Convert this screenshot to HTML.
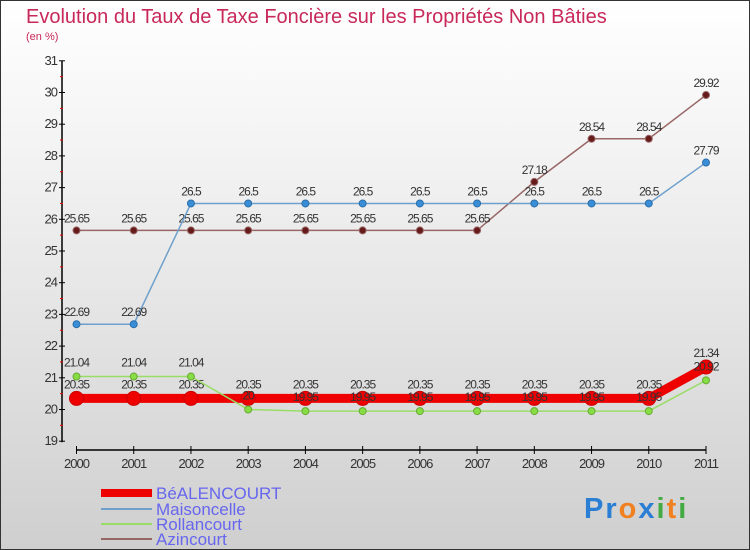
<!DOCTYPE html>
<html><head><meta charset="utf-8"><style>
body{margin:0;}
#c{position:relative;width:748px;height:548px;border:1px solid #333;background:linear-gradient(#ffffff,#f2f2f2 30%,#cfcfcf);font-family:"Liberation Sans",sans-serif;overflow:hidden}
</style></head><body>
<div id="c">
<svg id="s" width="748" height="548" xmlns="http://www.w3.org/2000/svg" font-family="Liberation Sans, sans-serif">
<text x="25" y="22" font-size="20" fill="#c8285a">Evolution du Taux de Taxe Foncière sur les Propriétés Non Bâties</text>
<text x="25" y="39" font-size="11" fill="#c8285a">(en %)</text>
<g id="axes"></g><g id="series"></g>
<g>
<line x1="100" y1="492" x2="151" y2="492" stroke="#ee0000" stroke-width="8"/>
<text x="155" y="498" font-size="17" fill="#6666ee">BéALENCOURT</text>
<line x1="100" y1="508" x2="151" y2="508" stroke="#6fa0cc" stroke-width="2"/>
<text x="155" y="514" font-size="17" fill="#6666ee">Maisoncelle</text>
<line x1="100" y1="523" x2="151" y2="523" stroke="#99dd66" stroke-width="2"/>
<text x="155" y="529" font-size="17" fill="#6666ee">Rollancourt</text>
<line x1="100" y1="538" x2="151" y2="538" stroke="#996666" stroke-width="2"/>
<text x="155" y="544" font-size="17" fill="#6666ee">Azincourt</text>
</g>
<text x="583" y="517" font-size="29" font-weight="bold" letter-spacing="2"><tspan fill="#2a7fd4">Pr</tspan><tspan fill="#f08020">o</tspan><tspan fill="#2a7fd4">x</tspan><tspan fill="#44aa44">i</tspan><tspan fill="#f08020">t</tspan><tspan fill="#44aa44">i</tspan></text>
</svg></div>
<script>
const years=["2000","2001","2002","2003","2004","2005","2006","2007","2008","2009","2010","2011"];
const yTicks=[19,20,21,22,23,24,25,26,27,28,29,30,31];
const bealencourt=[20.35,20.35,20.35,20.35,20.35,20.35,20.35,20.35,20.35,20.35,20.35,21.34];
const maisoncelle=[22.69,22.69,26.5,26.5,26.5,26.5,26.5,26.5,26.5,26.5,26.5,27.79];
const rollancourt=[21.04,21.04,21.04,20,19.95,19.95,19.95,19.95,19.95,19.95,19.95,20.92];
const azincourt=[25.65,25.65,25.65,25.65,25.65,25.65,25.65,25.65,27.18,28.54,28.54,29.92];
const NS="http://www.w3.org/2000/svg";
const xS=i=>75.5+i*(705-75.5)/(years.length-1);
const yS=v=>408.5-(v-20)*31.7;
function mk(t,a,p){const e=document.createElementNS(NS,t);for(const k in a)e.setAttribute(k,a[k]);p.appendChild(e);return e;}
const ax=document.getElementById('axes'),sr=document.getElementById('series');
let l=mk('line',{x1:61,y1:yS(31),x2:61,y2:yS(19)+1,stroke:'#000','stroke-width':1.5},ax);


yTicks.forEach(v=>{
 mk('line',{x1:58,y1:yS(v),x2:64,y2:yS(v),stroke:'#000'},ax);
 if(v<31){mk('line',{x1:59,y1:yS(v+0.5),x2:62,y2:yS(v+0.5),stroke:'#e00'},ax);}
 const t=mk('text',{x:56,y:yS(v)+4,'font-size':13,fill:'#333','text-anchor':'end','letter-spacing':'-1'},ax);t.textContent=v;
 
 
});
l=mk('line',{x1:xS(0),y1:449,x2:xS(11),y2:449,stroke:'#000','stroke-width':1.5},ax);


years.forEach((y,i)=>{
 mk('line',{x1:xS(i),y1:445,x2:xS(i),y2:453,stroke:'#000'},ax);
 const t=mk('text',{x:xS(i),y:467,'font-size':13,fill:'#333','text-anchor':'middle','letter-spacing':'-1'},ax);t.textContent=y;
 
 
});
function series(d,name,col,w,r,fill,stroke,dy){
 const g=mk('g',{},sr);
 
 
 mk('polyline',{points:d.map((v,i)=>xS(i)+','+yS(v)).join(' '),fill:'none',stroke:col,'stroke-width':w},g);
 d.forEach((v,i)=>{
  const c=mk('circle',{cx:xS(i),cy:yS(v),r:r,fill:fill,stroke:stroke,'stroke-width':1},g);
  
  
  const t=mk('text',{x:xS(i),y:yS(v)+dy,'font-size':12,fill:'#333','text-anchor':'middle','letter-spacing':'-1'},g);t.textContent=String(v);
  
  
 });
}
series(azincourt,'azincourt','#996666',1.5,3.5,'#661a1a','#996666',-8);
series(maisoncelle,'maisoncelle','#6fa0cc',1.5,3.5,'#3a8ed8','#2a6ea8',-8);
series(bealencourt,'bealencourt','#ee0000',9,7,'#ee0000','#cc0000',-10);
series(rollancourt,'rollancourt','#99dd66',1.5,3.5,'#88dd44','#66aa33',-10);
</script>
</body></html>
